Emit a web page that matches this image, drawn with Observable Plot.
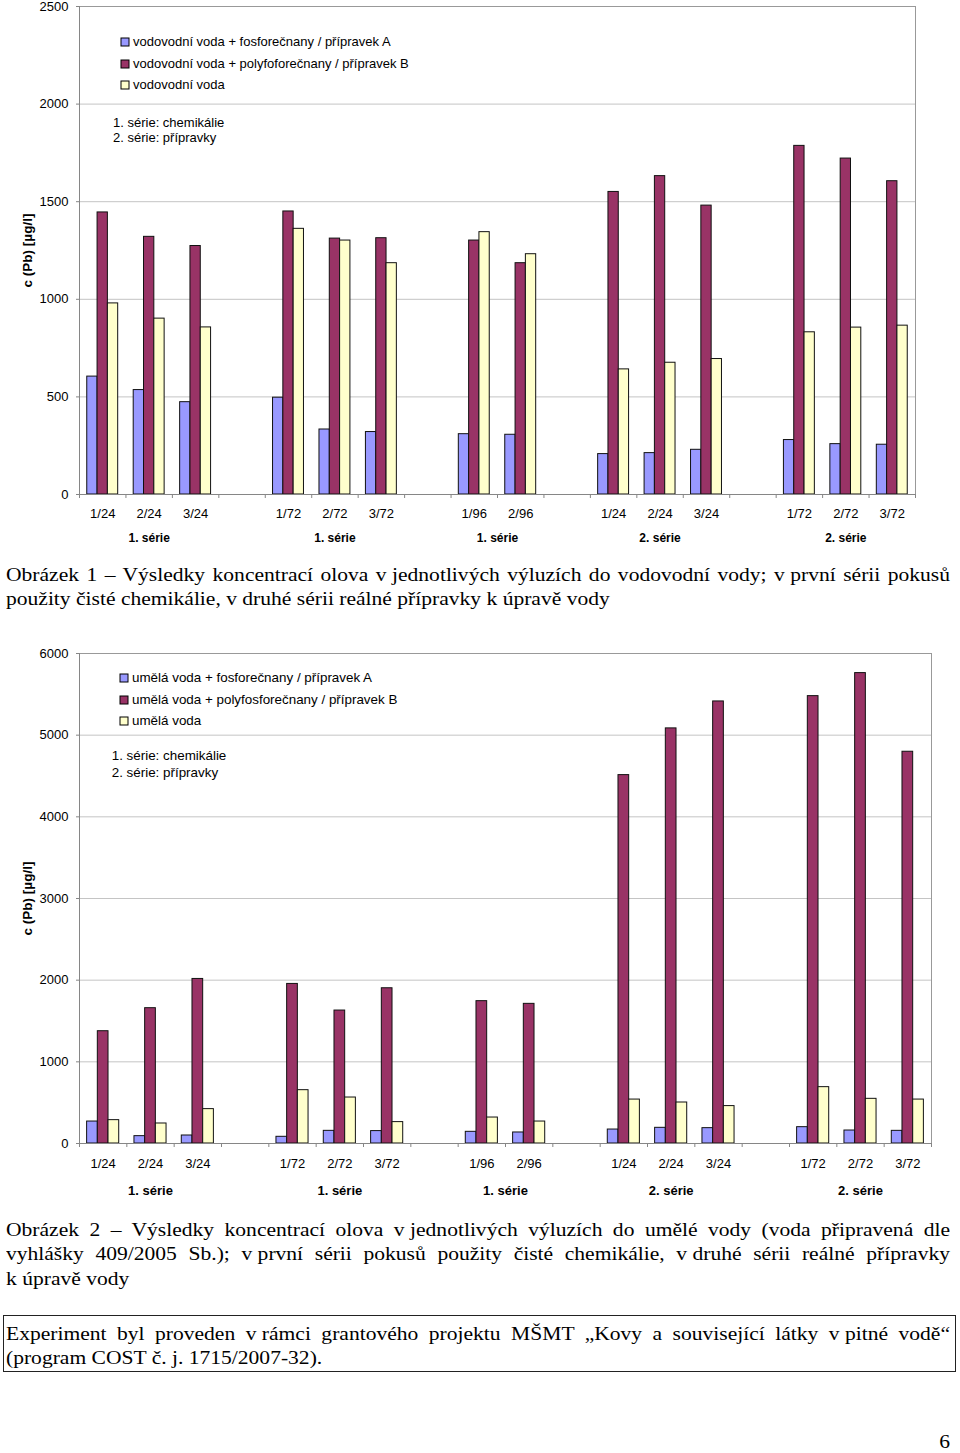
<!DOCTYPE html>
<html>
<head>
<meta charset="utf-8">
<script src="https://cdn.jsdelivr.net/npm/d3@7"></script>
<script src="https://cdn.jsdelivr.net/npm/@observablehq/plot@0.6"></script>
<style>
  body { margin: 0; background: #fff; }
  #page { position: relative; width: 960px; height: 1453px; overflow: hidden; background: #fff; }
  .abs { position: absolute; }
  .serif { font-family: "Liberation Serif", "Times New Roman", serif; font-size: 19.5px; line-height: 24.5px; color: #000;
           transform: scaleX(1.105); transform-origin: 0 0; }
  .serif .j { text-align: justify; text-align-last: justify; white-space: nowrap; }
  .serif .l { text-align: left; white-space: nowrap; }
  .nb { display: inline-block; white-space: nowrap; text-align: left; text-align-last: left; }
  .note { font-family: "Liberation Sans", Arial, sans-serif; font-size: 13px; color: #000; white-space: nowrap; }
  .lg1-swatch > svg, .lg2-swatch > svg { margin-right: 4px !important; overflow: visible !important; }
  .lg1-swatch rect, .lg2-swatch rect { stroke: #000; stroke-width: 1px; }
  .lg1-swatch-label, .lg2-swatch-label { overflow: visible !important; }
</style>
</head>
<body>
<div id="page">
  <div id="chart1" class="abs" style="left:0;top:0"></div>
  <div id="legend1" class="abs" style="left:121px;top:32.2px"></div>
  <div class="abs note" style="left:113px;top:114.7px;line-height:15.5px">1. série: chemikálie<br>2. série: přípravky</div>

  <div class="abs serif" style="left:6px;top:562.5px;width:854.3px">
    <div class="j">Obrázek 1 – Výsledky koncentrací olova <span class="nb">v jednotlivých</span> výluzích do vodovodní vody; <span class="nb">v první</span> sérii pokusů</div>
    <div class="l">použity čisté chemikálie, <span class="nb">v druhé</span> sérii reálné přípravky <span class="nb">k úpravě</span> vody</div>
  </div>

  <div id="chart2" class="abs" style="left:0;top:640px"></div>
  <div id="legend2" class="abs" style="left:120px;top:668.3px"></div>
  <div class="abs note" style="left:111.7px;top:746.6px;line-height:17px;font-size:13.4px">1. série: chemikálie<br>2. série: přípravky</div>

  <div class="abs serif" style="left:6px;top:1217.5px;width:854.3px">
    <div class="j">Obrázek 2 – Výsledky koncentrací olova <span class="nb">v jednotlivých</span> výluzích do umělé vody (voda připravená dle</div>
    <div class="j">vyhlášky 409/2005 Sb.); <span class="nb">v první</span> sérii pokusů použity čisté chemikálie, <span class="nb">v druhé</span> sérii reálné přípravky</div>
    <div class="l"><span class="nb">k úpravě</span> vody</div>
  </div>

  <div class="abs" style="left:3px;top:1315px;width:953px;height:57px;box-sizing:border-box;border:1px solid #222;padding:5.6px 0 0 2px">
    <div class="serif" style="width:854.3px">
      <div class="j">Experiment byl proveden <span class="nb">v rámci</span> grantového projektu MŠMT „Kovy a související látky <span class="nb">v pitné</span> vodě“</div>
      <div class="l">(program COST č. j. 1715/2007-32).</div>
    </div>
  </div>

  <div class="abs" style="left:900px;top:1431px;width:50px;text-align:right;font-family:'Liberation Serif',serif;font-size:19.5px;line-height:22px;transform:scaleX(1.105);transform-origin:100% 0">6</div>
</div>

<script>
// ---------------- data ----------------
const slotLabels = ["1/24","2/24","3/24","","1/72","2/72","3/72","","1/96","2/96","","1/24","2/24","3/24","","1/72","2/72","3/72"];
const groupNames = ["1. série","1. série","1. série","2. série","2. série"];
const seriesColors = ["#9999ff", "#993366", "#ffffcc"];
const yTitle = "c (Pb) [µg/l]";

// Chart 1 – vodovodní voda
const series1 = ["vodovodní voda + fosforečnany / přípravek A",
                 "vodovodní voda + polyfoforečnany / přípravek B",
                 "vodovodní voda"];
const valuesA1 = [604, 535, 473, null, 496, 333, 320, null, 309, 306, null, 207, 212, 229, null, 279, 258, 255];
const valuesB1 = [1445, 1320, 1273, null, 1450, 1311, 1313, null, 1301, 1185, null, 1550, 1631, 1480, null, 1786, 1721, 1605];
const valuesC1 = [979, 901, 856, null, 1361, 1301, 1185, null, 1344, 1231, null, 641, 675, 694, null, 831, 855, 865];
const yTicks1 = [0, 500, 1000, 1500, 2000, 2500];

// Chart 2 – umělá voda
const series2 = ["umělá voda + fosforečnany / přípravek A",
                 "umělá voda + polyfosforečnany / přípravek B",
                 "umělá voda"];
const valuesA2 = [269, 90, 98, null, 82, 155, 152, null, 143, 135, null, 171, 192, 188, null, 200, 159, 155];
const valuesB2 = [1375, 1657, 2015, null, 1954, 1628, 1901, null, 1743, 1710, null, 4511, 5083, 5413, null, 5478, 5760, 4797];
const valuesC2 = [286, 245, 421, null, 653, 563, 262, null, 318, 269, null, 538, 502, 458, null, 690, 547, 538];
const yTicks2 = [0, 1000, 2000, 3000, 4000, 5000, 6000];

// ---------------- helpers ----------------
function groupsFrom(labels, names) {
  const runs = [];
  let start = null;
  labels.forEach((l, i) => {
    if (l && start === null) start = i;
    const last = i === labels.length - 1;
    if (start !== null && (!l || last)) {
      runs.push({start, end: l ? i : i - 1});
      start = null;
    }
  });
  return runs.map((r, k) => ({...r, label: names[k]}));
}

function chart(series, values, yTicks, L) {
  const rows = [];
  values.forEach((vals, s) => vals.forEach((v, i) => {
    if (v != null) rows.push({slot: i, s, series: series[s], value: v});
  }));
  const n = slotLabels.length;
  const bw = L.barFrac;
  const yMax = yTicks[yTicks.length - 1];
  const labelled = d3.range(n).filter(i => slotLabels[i]);
  const groups = groupsFrom(slotLabels, groupNames);
  const axisGray = "#868686";
  return Plot.plot({
    width: 960,
    height: L.height,
    marginLeft: 79,
    marginRight: L.marginRight,
    marginTop: L.marginTop,
    marginBottom: L.marginBottom,
    x: {domain: [0, n], axis: null},
    y: {domain: [0, yMax], axis: null},
    color: {domain: series, range: seriesColors},
    style: {fontFamily: '"Liberation Sans", Arial, sans-serif', fontSize: "13px", color: "#000", background: "transparent", overflow: "visible"},
    marks: [
      Plot.ruleY(yTicks.slice(1, -1), {y: d => d, stroke: "#c4c4c4"}),
      Plot.ruleY([yMax], {y: d => d, stroke: "#999"}),
      Plot.ruleX([n], {x: d => d, stroke: "#999"}),
      Plot.rect(rows, {
        x1: d => d.slot + 0.5 + (d.s - 1.5) * bw,
        x2: d => d.slot + 0.5 + (d.s - 0.5) * bw,
        y1: 0,
        y2: "value",
        fill: "series",
        stroke: "#111",
        strokeWidth: 1
      }),
      Plot.ruleX([0], {x: d => d, stroke: axisGray}),
      Plot.ruleY([0], {y: d => d, stroke: axisGray}),
      Plot.ruleY(yTicks, {y: d => d, x1: 0, x2: 0, insetLeft: -3, stroke: axisGray}),
      Plot.ruleX(d3.range(n + 1), {x: d => d, y1: 0, y2: 0, insetBottom: -4, stroke: axisGray}),
      Plot.text(yTicks, {y: d => d, text: d => String(d), frameAnchor: "left", textAnchor: "end", dx: -11, lineAnchor: "middle", fontSize: 13, fill: "#000"}),
      Plot.text(labelled, {x: i => i + 0.5, text: i => slotLabels[i], frameAnchor: "bottom", dy: L.catDy, lineAnchor: "middle", fontSize: 13, fill: "#000"}),
      Plot.text(groups, {x: g => (g.start + g.end + 1) / 2, text: g => g.label, frameAnchor: "bottom", dy: L.groupDy, lineAnchor: "middle", fontWeight: "bold", fontSize: L.groupFont, fill: "#000"}),
      Plot.text([yTitle], {text: d => d, frameAnchor: "left", textAnchor: "middle", lineAnchor: "middle", rotate: -90, dx: -52, fontWeight: "bold", fontSize: 13.5, fill: "#000"})
    ]
  });
}

function legend(series, cls, fontSize, lineHeight) {
  return Plot.legend({
    color: {type: "ordinal", domain: series, range: seriesColors},
    legend: "swatches",
    columns: 1,
    swatchSize: 8,
    width: 420,
    className: cls,
    style: {fontFamily: '"Liberation Sans", Arial, sans-serif', fontSize: fontSize, lineHeight: lineHeight, color: "#000", marginBottom: "0px"}
  });
}

document.getElementById("chart1").append(
  chart(series1, [valuesA1, valuesB1, valuesC1], yTicks1,
        {height: 550, marginTop: 6, marginBottom: 56, marginRight: 45, barFrac: 0.222, catDy: 19.8, groupDy: 43.2, groupFont: 12})
);
document.getElementById("chart2").append(
  chart(series2, [valuesA2, valuesB2, valuesC2], yTicks2,
        {height: 560, marginTop: 13, marginBottom: 57, marginRight: 29, barFrac: 0.226, catDy: 20, groupDy: 47.5, groupFont: 13})
);
document.getElementById("legend1").append(legend(series1, "lg1", "13px", "20.4px"));
document.getElementById("legend2").append(legend(series2, "lg2", "13.4px", "20.2px"));
</script>
</body>
</html>
